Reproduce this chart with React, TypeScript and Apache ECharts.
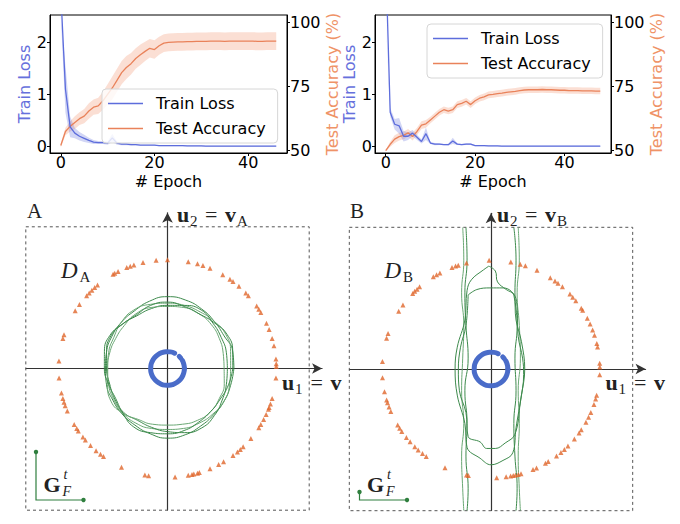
import React, { useEffect, useRef } from "react";
import * as echarts from "echarts";

// ---------------- Top charts: training curves ----------------
const LOSS_A = [
  2.95, 1.1, 0.38, 0.26, 0.2, 0.16, 0.12, 0.09, 0.08, 0.08,
  0.07, 0.17, 0.07, 0.05, 0.05, 0.04, 0.04, 0.03, 0.03, 0.03,
  0.03, 0.02, 0.02, 0.02, 0.02, 0.02, 0.02, 0.015, 0.015, 0.015,
  0.015, 0.01, 0.01, 0.01, 0.01, 0.01, 0.01, 0.01, 0.01, 0.01,
  0.01, 0.01, 0.01, 0.01, 0.01, 0.01, 0.01,
];
const LOSS_A_SD = [
  0.3, 0.45, 0.2, 0.1, 0.08, 0.07, 0.05, 0.04, 0.03, 0.03,
  0.03, 0.08, 0.03, 0.02, 0.02, 0.015, 0.01, 0.01, 0.01, 0.01,
  0.01, 0.01, 0.01, 0.01, 0.01, 0.01, 0.01, 0.01, 0.01, 0.01,
  0.01, 0.01, 0.01, 0.01, 0.01, 0.01, 0.01, 0.01, 0.01, 0.01,
  0.01, 0.01, 0.01, 0.01, 0.01, 0.01, 0.01,
];
const ACC_A = [
  52, 57.5, 59.5, 61, 62.5, 63.5, 65.5, 67, 67.5, 69.5,
  72, 74.5, 77.5, 80.5, 82.5, 84, 86, 87.5, 88.8, 90,
  89.5, 91, 92, 92.3, 92.4, 92.5, 92.5, 92.6, 92.6, 92.7,
  92.7, 92.7, 92.8, 92.8, 92.8, 92.7, 92.8, 92.8, 92.8, 92.8,
  92.8, 92.8, 92.7, 92.7, 92.8, 92.8, 92.8,
];
const ACC_A_SD = [
  0.8, 1.5, 2, 2.5, 2.5, 2.8, 3, 3, 3.2, 3.5,
  4, 4.5, 4.5, 4.5, 4.5, 4.2, 4, 4, 3.8, 3.6,
  3.6, 3.5, 3.5, 3.5, 3.5, 3.5, 3.5, 3.5, 3.5, 3.5,
  3.5, 3.5, 3.5, 3.5, 3.5, 3.5, 3.5, 3.5, 3.5, 3.5,
  3.5, 3.5, 3.5, 3.5, 3.5, 3.5, 3.5,
];

const LOSS_B = [
  3.6, 0.66, 0.43, 0.4, 0.2, 0.2, 0.26, 0.18, 0.1, 0.25,
  0.07, 0.05, 0.05, 0.04, 0.04, 0.11, 0.05, 0.04, 0.05, 0.05,
  0.02, 0.02, 0.02, 0.015, 0.015, 0.015, 0.01, 0.01, 0.01, 0.01,
  0.01, 0.01, 0.01, 0.01, 0.01, 0.01, 0.01, 0.01, 0.01, 0.01,
  0.01, 0.01, 0.01, 0.01, 0.01, 0.01, 0.01, 0.01, 0.01,
];
const LOSS_B_SD = [
  0.3, 0.08, 0.1, 0.15, 0.1, 0.07, 0.06, 0.05, 0.04, 0.12,
  0.02, 0.02, 0.015, 0.01, 0.015, 0.06, 0.015, 0.01, 0.015, 0.015,
  0.01, 0.01, 0.01, 0.01, 0.01, 0.01, 0.01, 0.01, 0.01, 0.01,
  0.01, 0.01, 0.01, 0.01, 0.01, 0.01, 0.01, 0.01, 0.01, 0.01,
  0.01, 0.01, 0.01, 0.01, 0.01, 0.01, 0.01, 0.01, 0.01,
];
const ACC_B = [
  50, 52.5, 54.5, 55.5, 56, 57, 55.5, 57.5, 60, 60.5,
  62, 63.5, 65, 66, 65.5, 66, 68, 68.5, 69.3, 68,
  69.5, 70.5, 71, 71.8, 72, 72.3, 72.5, 72.8, 73, 73.2,
  73.5, 73.7, 73.8, 73.8, 73.8, 73.9, 73.8, 73.8, 73.7, 73.6,
  73.6, 73.5, 73.5, 73.5, 73.4, 73.4, 73.4, 73.3, 73.3,
];
const ACC_B_SD = [
  0.3, 1.0, 1.5, 1.5, 1.5, 1.5, 1.5, 1.5, 1.5, 1.5,
  1.3, 1.3, 1.3, 1.3, 1.3, 1.3, 1.3, 1.3, 1.3, 1.3,
  1.3, 1.3, 1.3, 1.3, 1.3, 1.3, 1.3, 1.3, 1.3, 1.3,
  1.3, 1.3, 1.3, 1.3, 1.3, 1.3, 1.3, 1.3, 1.3, 1.3,
  1.3, 1.3, 1.3, 1.3, 1.3, 1.3, 1.3, 1.3, 1.3,
];

const EPOCH_TICKS = [0, 20, 40];
const LOSS_TICKS = [0, 1, 2];
const ACC_TICKS = [50, 75, 100];
const LOSS_RANGE = [-0.12, 2.52];
const ACC_RANGE = [49.1, 103];

// ---------------- Bottom panels: feature space ----------------
// angles (degrees, counter-clockwise from u1) of the orange triangles, radius ~1
const TRI_RADIUS = 1.0;
const TRI_ANGLES_A = [
  1, 2.5, 5, 12, 16, 21, 24.6, 31, 33, 35, 42, 44, 49, 53, 55, 59.5, 67, 71, 74, 79,
  90, 96, 103, 108, 110, 112, 117, 119, 120, 130, 132, 134, 136, 138, 144, 148, 162, 164, 176,
  185, 193, 196, 198, 200, 203, 211, 213.5, 215, 219, 221, 225, 229, 232, 234, 245, 258, 260,
  274, 281, 283, 284, 286, 287, 293, 298, 301, 307, 310, 312, 314, 320, 327, 329, 332, 335,
  338, 339, 341, 344, 355,
];
const TRI_ANGLES_B = [
  1, 3, 11.7, 13.6, 18, 21, 24.4, 27.8, 32.6, 34, 38.8, 41.3, 43.5, 49, 52, 54, 57, 65, 71.6,
  74.4, 79.5, 91, 103, 107.5, 109, 111, 118, 120, 122, 131, 132.8, 134.5, 136, 144, 148, 161,
  163.6, 176, 184.6, 192, 196.5, 198, 200.5, 203, 211, 213, 215, 219, 222, 225.6, 228, 231,
  233.5, 245, 257, 258, 273, 278, 280.4, 281.8, 283, 284.5, 286, 292.7, 294.7, 300, 301.7,
  307, 310, 312.4, 315, 320, 324, 326, 330.7, 333.7, 336.5, 341, 344, 346, 357,
];

// blue ring of inner points
const RING_RADIUS = 0.155;
const RING_MAIN = [65, 80, 95, 110, 125, 140, 155, 170, 185, 200, 215, 230, 245, 260, 275, 290, 305, 320, 335, 350, 360];
const RING_TAIL = [0, 10, 20, 28];
const RING_DOT = [38, 46];

// panel A level sets: radius at each angle (0..360 by 15 degrees)
const CONTOUR_ANGLES = [
  0, 15, 30, 45, 60, 75, 90, 105, 120, 135, 150, 165, 180,
  195, 210, 225, 240, 255, 270, 285, 300, 315, 330, 345, 360,
];
const A_CONTOURS = [
  [0.61, 0.62, 0.6, 0.61, 0.63, 0.65, 0.66, 0.64, 0.61, 0.6, 0.59, 0.58, 0.57, 0.58, 0.58, 0.59, 0.6, 0.62, 0.64, 0.63, 0.61, 0.6, 0.6, 0.6, 0.61],
  [0.58, 0.6, 0.62, 0.61, 0.6, 0.6, 0.6, 0.61, 0.62, 0.6, 0.57, 0.56, 0.55, 0.56, 0.57, 0.58, 0.58, 0.57, 0.56, 0.57, 0.58, 0.59, 0.6, 0.59, 0.58],
  [0.55, 0.56, 0.57, 0.59, 0.62, 0.6, 0.58, 0.57, 0.56, 0.58, 0.6, 0.58, 0.56, 0.55, 0.56, 0.57, 0.55, 0.56, 0.58, 0.61, 0.63, 0.61, 0.58, 0.56, 0.55],
  [0.52, 0.53, 0.55, 0.57, 0.58, 0.58, 0.57, 0.58, 0.58, 0.56, 0.55, 0.55, 0.55, 0.57, 0.6, 0.58, 0.54, 0.53, 0.52, 0.53, 0.55, 0.56, 0.55, 0.54, 0.52],
  [0.6, 0.62, 0.63, 0.6, 0.58, 0.59, 0.61, 0.6, 0.57, 0.58, 0.61, 0.6, 0.58, 0.56, 0.55, 0.58, 0.62, 0.61, 0.6, 0.59, 0.57, 0.56, 0.56, 0.58, 0.6],
];

// panel B level sets
const B_Y = [1.3, 1.0, 0.7, 0.4, 0.1, -0.2, -0.5, -0.8, -1.1, -1.3];
const B_VERTICALS = [
  [-0.23, -0.22, -0.24, -0.23, -0.21, -0.24, -0.22, -0.23, -0.21, -0.22],
  [-0.26, -0.25, -0.27, -0.25, -0.26, -0.27, -0.25, -0.27, -0.26, -0.25],
  [0.21, 0.23, 0.22, 0.24, 0.22, 0.23, 0.21, 0.22, 0.24, 0.23],
  [0.25, 0.26, 0.24, 0.26, 0.27, 0.25, 0.26, 0.25, 0.26, 0.27],
];
const B_OVAL_1 = [
  [-0.02, 0.945], [-0.07, 0.91], [-0.18, 0.82], [-0.22, 0.72], [-0.24, 0.45], [-0.31, 0.2],
  [-0.33, 0.0], [-0.31, -0.24], [-0.24, -0.5], [-0.22, -0.72], [-0.1, -0.82], [0.0, -0.88],
  [0.11, -0.84], [0.2, -0.77], [0.23, -0.54], [0.28, -0.24], [0.31, 0.0], [0.28, 0.25],
  [0.23, 0.45], [0.21, 0.68], [0.14, 0.73], [0.06, 0.8], [0.04, 0.9], [-0.02, 0.945],
];
const B_OVAL_2 = [
  [-0.21, 0.68], [-0.13, 0.73], [-0.01, 0.745], [0.11, 0.745], [0.19, 0.71], [0.235, 0.62],
  [0.25, 0.3], [0.29, 0.1], [0.3, -0.05], [0.27, -0.3], [0.22, -0.6], [0.13, -0.68],
  [0.04, -0.73], [-0.04, -0.73], [-0.1, -0.67], [-0.21, -0.62], [-0.23, -0.4], [-0.29, -0.2],
  [-0.3, 0.0], [-0.28, 0.2], [-0.23, 0.4], [-0.21, 0.68],
];

// ---------------- styles ----------------
const SANS = "'DejaVu Sans', sans-serif";
const SERIF = "'Liberation Serif', 'DejaVu Serif', serif";
const BLUE = "#5d6ddc";
const BLUE_LABEL = "#6670dc";
const BLUE_BAND = "rgba(93,109,220,0.28)";
const ORANGE = "#e9825a";
const ORANGE_LABEL = "#ef9367";
const ORANGE_BAND = "rgba(242,135,95,0.27)";
const TRI = "#e0662c";
const RING = "#4a6cc9";
const GREEN = "#3d8a4c";
const GREEN_LIGHT = "#6aa874";
const INK = "#222";

const pairs = (vals: number[]) => vals.map((v, i) => [i, v]);

function topX(gi: number, min: number, max: number) {
  return {
    type: "value", gridIndex: gi, min, max, minInterval: EPOCH_TICKS[1] - EPOCH_TICKS[0],
    maxInterval: EPOCH_TICKS[1] - EPOCH_TICKS[0],
    name: "# Epoch", nameLocation: "middle", nameGap: 21,
    nameTextStyle: { fontSize: 16, fontFamily: SANS, color: "#000", lineHeight: 15 },
    axisLine: { show: true, onZero: false, lineStyle: { color: "#000", width: 1 } },
    axisTick: { show: true, length: 3, lineStyle: { color: "#000" } },
    axisLabel: { fontSize: 16, fontFamily: SANS, color: "#000", margin: 3, lineHeight: 13, showMinLabel: false, showMaxLabel: false },
    splitLine: { show: false },
  };
}
function topYLeft(gi: number) {
  return {
    type: "value", gridIndex: gi, position: "left", min: LOSS_RANGE[0], max: LOSS_RANGE[1],
    minInterval: LOSS_TICKS[1] - LOSS_TICKS[0], maxInterval: LOSS_TICKS[1] - LOSS_TICKS[0],
    name: "Train Loss", nameLocation: "middle", nameGap: 16, nameRotate: 90,
    nameTextStyle: { fontSize: 16, fontFamily: SANS, color: BLUE_LABEL },
    axisLine: { show: true, onZero: false, lineStyle: { color: "#000" } },
    axisTick: { show: true, length: 3, lineStyle: { color: "#000" } },
    axisLabel: { fontSize: 16, fontFamily: SANS, color: "#000", margin: 3, showMinLabel: false, showMaxLabel: false },
    splitLine: { show: false },
  };
}
function topYRight(gi: number, gap: number) {
  return {
    type: "value", gridIndex: gi, position: "right", min: ACC_RANGE[0], max: ACC_RANGE[1],
    minInterval: ACC_TICKS[1] - ACC_TICKS[0], maxInterval: ACC_TICKS[1] - ACC_TICKS[0],
    name: "Test Accuracy (%)", nameLocation: "middle", nameGap: gap, nameRotate: 90,
    nameTextStyle: { fontSize: 16, fontFamily: SANS, color: ORANGE_LABEL },
    axisLine: { show: true, onZero: false, lineStyle: { color: "#000" } },
    axisTick: { show: true, length: 3, lineStyle: { color: "#000" } },
    axisLabel: { fontSize: 16, fontFamily: SANS, color: "#000", margin: 3, showMinLabel: false, showMaxLabel: false },
    splitLine: { show: false },
  };
}
function bandSeries(k: number, yIdx: number, mean: number[], sd: number[], color: string, range: number[]) {
  const up = mean.map((v, i) => [i, Math.min(range[1], v + sd[i])]);
  const lo = mean.map((v, i) => [i, Math.min(range[1], Math.max(range[0], v - sd[i]))]);
  return {
    type: "custom", xAxisIndex: k, yAxisIndex: yIdx, silent: true, z: 1, clip: true,
    data: [[0, mean[0]]],
    renderItem: (_params: any, api: any) => {
      const pts = up.concat(lo.slice().reverse()).map((p) => api.coord(p));
      return { type: "polygon", shape: { points: pts }, style: { fill: color } };
    },
  };
}
function curveSeries(k: number, loss: number[], lossSd: number[], acc: number[], accSd: number[]) {
  return [
    bandSeries(k, 2 * k + 1, acc, accSd, ORANGE_BAND, ACC_RANGE),
    bandSeries(k, 2 * k, loss, lossSd, BLUE_BAND, LOSS_RANGE),
    { type: "line", name: "Test Accuracy", xAxisIndex: k, yAxisIndex: 2 * k + 1, symbol: "none", data: pairs(acc), lineStyle: { color: ORANGE, width: 1.3 }, itemStyle: { color: ORANGE } },
    { type: "line", name: "Train Loss", xAxisIndex: k, yAxisIndex: 2 * k, symbol: "none", data: pairs(loss), lineStyle: { color: BLUE, width: 1.3 }, itemStyle: { color: BLUE } },
  ];
}
function legendAt(left: number, top: number) {
  return {
    data: ["Train Loss", "Test Accuracy"], orient: "vertical", left, top,
    icon: "rect", itemWidth: 35, itemHeight: 1.6, itemGap: 8, padding: [6, 12, 6, 6],
    backgroundColor: "rgba(255,255,255,0.8)", borderColor: "#d6d6d6", borderWidth: 1, borderRadius: 4,
    textStyle: { fontSize: 16, fontFamily: SANS, color: "#000", padding: [0, 0, 0, 8], lineHeight: 17 },
    selectedMode: false,
  };
}

// ---------------- bottom panels ----------------
const SCALE_MAX = 1.3;
function panelX(gi: number) {
  return {
    type: "value", gridIndex: gi, min: -SCALE_MAX, max: 1.42,
    axisLine: { show: true, onZero: true, symbol: ["none", "arrow"], symbolSize: [8, 10], lineStyle: { color: "#333", width: 1.2 } },
    axisTick: { show: false }, axisLabel: { show: false }, splitLine: { show: false },
  };
}
function panelY(gi: number) {
  return {
    type: "value", gridIndex: gi, min: -SCALE_MAX, max: 1.43,
    axisLine: { show: true, onZero: true, symbol: ["none", "arrow"], symbolSize: [8, 10], lineStyle: { color: "#333", width: 1.2 } },
    axisTick: { show: false }, axisLabel: { show: false }, splitLine: { show: false },
  };
}
function panelPolarSeries(p: number, angles: number[]) {
  const out: any[] = [
    {
      type: "scatter", coordinateSystem: "polar", polarIndex: p, symbol: "triangle", symbolSize: 5,
      itemStyle: { color: TRI }, data: angles.map((a) => [TRI_RADIUS, a]), silent: true, z: 4,
    },
  ];
  [RING_MAIN, RING_TAIL, RING_DOT].forEach((arc) => {
    out.push({
      type: "line", coordinateSystem: "polar", polarIndex: p, symbol: "none", smooth: true, silent: true, z: 5,
      data: arc.map((a) => [RING_RADIUS, a]), lineStyle: { color: RING, width: 5, cap: "round" },
    });
  });
  return out;
}

function T(text: string, x: number, base: number, size: number, weight = "normal", style = "normal") {
  return {
    type: "text", x, y: base - 0.34 * size, silent: true, z: 10,
    style: {
      text, fill: INK, font: `${style} ${weight} ${size}px ${SERIF}`,
      align: "left", verticalAlign: "middle", textAlign: "left", textVerticalAlign: "middle",
    },
  };
}
function panelGraphics(cx: number, cy: number, letter: string, letterX: number, u2x: number, gShort: boolean) {
  const half = 141.7;
  const els: any[] = [
    { type: "rect", shape: { x: cx - half, y: cy - half, width: 2 * half, height: 2 * half }, style: { fill: "none", stroke: "#555", lineWidth: 1, lineDash: [3, 3] }, silent: true, z: 1 },
    T(letter, letterX, 218, 21),
    T("u", u2x, 222, 22, "bold"), T("2", u2x + 13, 226, 15), T("=", u2x + 28, 222, 22),
    T("v", u2x + 48, 222, 22, "bold"), T(letter, u2x + 60, 226, 15),
    T("u", cx + 114.5, 390, 22, "bold"), T("1", cx + 127.5, 394, 15), T("=", cx + 143, 390, 22),
    T("v", cx + 163, 390, 22, "bold"),
    T("D", cx - 106.5, 278, 23, "normal", "italic"), T(letter, cx - 88, 282, 15),
    T("G", cx - 124, 492, 22, "bold"), T("t", cx - 104, 479, 14, "normal", "italic"),
    T("F", cx - 105, 496, 14, "normal", "italic"),
  ];
  const gx = cx - 131.5;
  const top = gShort ? 492 : 452;
  els.push(
    { type: "polyline", shape: { points: [[gx, top], [gx, 500], [gx + 47.5, 500]] }, style: { stroke: "#2f7f3e", lineWidth: 1.2, fill: "none" }, silent: true, z: 10 },
    { type: "circle", shape: { cx: gx, cy: top, r: 2.2 }, style: { fill: "#2f7f3e" }, silent: true, z: 10 },
    { type: "circle", shape: { cx: gx + 47.5, cy: 500, r: 2.2 }, style: { fill: "#2f7f3e" }, silent: true, z: 10 },
  );
  return els;
}

const PA = { cx: 167.5, cy: 368.5 };
const PB = { cx: 491, cy: 369 };
const PX = 108.85; // px per unit in the panels
const gridFor = (c: { cx: number; cy: number }) => ({
  left: c.cx - SCALE_MAX * PX, top: c.cy - 1.43 * PX,
  width: (SCALE_MAX + 1.42) * PX, height: (SCALE_MAX + 1.43) * PX,
});

function buildOption() {
  const series: any[] = [
    ...curveSeries(0, LOSS_A, LOSS_A_SD, ACC_A, ACC_A_SD),
    ...curveSeries(1, LOSS_B, LOSS_B_SD, ACC_B, ACC_B_SD),
    ...panelPolarSeries(0, TRI_ANGLES_A),
    ...panelPolarSeries(1, TRI_ANGLES_B),
  ];
  A_CONTOURS.forEach((radii, i) => {
    series.push({
      type: "line", coordinateSystem: "polar", polarIndex: 0, symbol: "none", smooth: 0.5, silent: true, z: 3,
      data: radii.map((r, j) => [r, CONTOUR_ANGLES[j]]),
      lineStyle: { color: i % 2 === 0 ? GREEN : GREEN_LIGHT, width: 1 },
    });
  });
  B_VERTICALS.forEach((xs, i) => {
    series.push({
      type: "line", xAxisIndex: 3, yAxisIndex: 5, symbol: "none", smooth: 0.5, silent: true, z: 3,
      data: xs.map((x, j) => [x, B_Y[j]]),
      lineStyle: { color: i % 2 === 0 ? GREEN : GREEN_LIGHT, width: 1 },
    });
  });
  [B_OVAL_1, B_OVAL_2].forEach((pts) => {
    series.push({
      type: "line", xAxisIndex: 3, yAxisIndex: 5, symbol: "none", smooth: 0.4, silent: true, z: 3,
      data: pts, lineStyle: { color: GREEN, width: 1 },
    });
  });

  return {
    animation: false,
    backgroundColor: "#fff",
    grid: [
      { left: 50, top: 15, width: 237, height: 138, show: true, borderColor: "#000", borderWidth: 1 },
      { left: 375, top: 15, width: 236, height: 138, show: true, borderColor: "#000", borderWidth: 1 },
      gridFor(PA),
      gridFor(PB),
    ],
    xAxis: [topX(0, -2.3, 48.3), topX(1, -2.4, 50.4), panelX(2), panelX(3)],
    yAxis: [topYLeft(0), topYRight(0, 35), topYLeft(1), topYRight(1, 35), panelY(2), panelY(3)],
    polar: [
      { center: [PA.cx, PA.cy], radius: SCALE_MAX * PX },
      { center: [PB.cx, PB.cy], radius: SCALE_MAX * PX },
    ],
    angleAxis: [0, 1].map((p) => ({
      polarIndex: p, type: "value", min: 0, max: 360, startAngle: 0, clockwise: false,
      axisLine: { show: false }, axisTick: { show: false }, axisLabel: { show: false }, splitLine: { show: false },
    })),
    radiusAxis: [0, 1].map((p) => ({
      polarIndex: p, type: "value", min: 0, max: SCALE_MAX,
      axisLine: { show: false }, axisTick: { show: false }, axisLabel: { show: false }, splitLine: { show: false },
    })),
    legend: [legendAt(102, 89), legendAt(427, 24)],
    series,
    graphic: [
      ...panelGraphics(PA.cx, PA.cy, "A", 27, 177, false),
      ...panelGraphics(PB.cx, PB.cy, "B", 350, 497, true),
    ],
  };
}

export default function App() {
  const ref = useRef<HTMLDivElement>(null);
  useEffect(() => {
    if (!ref.current) return;
    const chart = echarts.init(ref.current, null, { renderer: "svg" });
    chart.setOption(buildOption() as any);
    return () => chart.dispose();
  }, []);
  return (
    <div
      ref={ref}
      style={{ position: "absolute", left: 0, top: 0, width: 680, height: 524, background: "#fff" }}
    />
  );
}
